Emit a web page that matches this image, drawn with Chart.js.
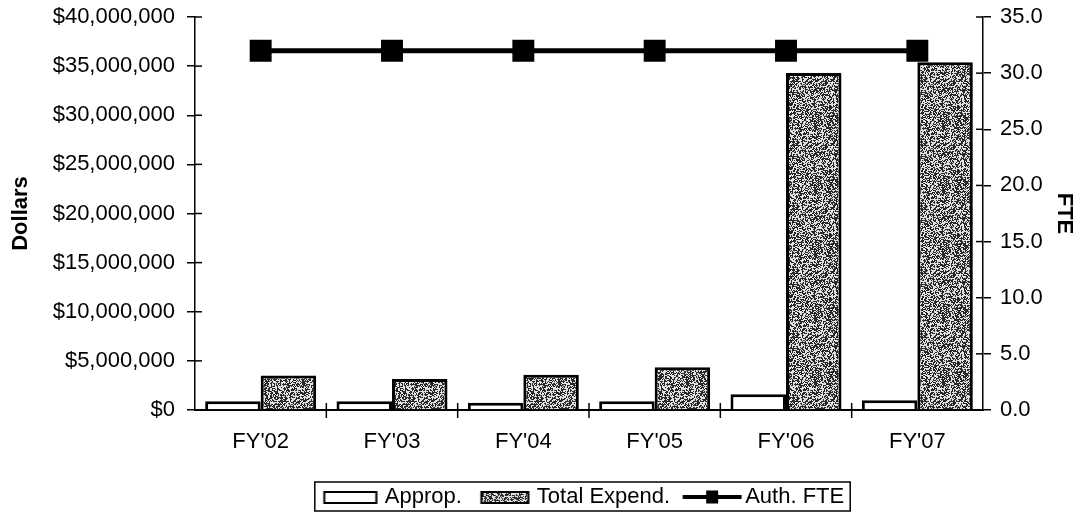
<!DOCTYPE html>
<html>
<head>
<meta charset="utf-8">
<script src="https://cdn.jsdelivr.net/npm/chart.js@4"></script>
<style>
  html, body { margin: 0; padding: 0; background: #fff; }
  #wrap { width: 1080px; height: 516px; position: relative; }
</style>
</head>
<body>
<div id="wrap"><canvas id="chart" width="1080" height="516"></canvas></div>
<script>
// Chart data
const years = ["FY'02", "FY'03", "FY'04", "FY'05", "FY'06", "FY'07"];
const approp = [900000, 900000, 750000, 900000, 1600000, 1000000];
const totalExpend = [3500000, 3150000, 3600000, 4350000, 34300000, 35400000];
const authFte = [32, 32, 32, 32, 32, 32];
const dollarTicks = [0, 5000000, 10000000, 15000000, 20000000, 25000000, 30000000, 35000000, 40000000];
const fteTicks = [0, 5, 10, 15, 20, 25, 30, 35];

const FONT = 'Liberation Sans, Arial, sans-serif';
const LEGEND_SHIFT = 43;
const LEGEND_DROP = 2;

// speckled gray fill like the scanned halftone
function makeSpeckle() {
  const c = document.createElement('canvas');
  c.width = 64; c.height = 64;
  const g = c.getContext('2d');
  const img = g.createImageData(64, 64);
  for (let y = 0; y < 64; y++) {
    for (let x = 0; x < 64; x++) {
      let h = (x * 374761393 + y * 668265263) | 0;
      h = Math.imul(h ^ (h >>> 13), 1274126177);
      h = (h ^ (h >>> 16)) >>> 0;
      const v = (h % 100) < 52 ? 40 : 225;
      const i = (y * 64 + x) * 4;
      img.data[i] = img.data[i + 1] = img.data[i + 2] = v;
      img.data[i + 3] = 255;
    }
  }
  g.putImageData(img, 0, 0);
  return c;
}
const speckle = makeSpeckle();
const ctx = document.getElementById('chart').getContext('2d');
const grayFill = ctx.createPattern(speckle, 'repeat');

// legend icons (drawn inside a wider image so the gaps match the reference)
function boxIcon(w, start, cw, fill) {
  const c = document.createElement('canvas');
  c.width = w; c.height = 16;
  const g = c.getContext('2d');
  g.fillStyle = fill;
  g.fillRect(start, 3, cw, 11);
  g.strokeStyle = '#000';
  g.lineWidth = 2;
  g.strokeRect(start, 3, cw, 11);
  return c;
}
function lineIcon(w, start, cw) {
  const c = document.createElement('canvas');
  c.width = w; c.height = 16;
  const g = c.getContext('2d');
  g.strokeStyle = '#000';
  g.lineWidth = 4;
  g.beginPath();
  g.moveTo(start, 8);
  g.lineTo(start + cw, 8);
  g.stroke();
  g.fillStyle = '#000';
  g.fillRect(start + cw / 2 - 6, 1.5, 12, 13);
  return c;
}
const legendIcons = [
  boxIcon(60, 6.5, 52, '#fff'),
  boxIcon(60, 11.5, 47, grayFill),
  lineIcon(68, 8.5, 59)
];

// ticks that cross the axis lines, and the frame round the legend
const extras = {
  id: 'extras',
  afterLayout(chart) {
    const lg = chart.legend;
    lg.left += LEGEND_SHIFT;
    lg.right += LEGEND_SHIFT;
    lg.top += LEGEND_DROP;
    lg.bottom += LEGEND_DROP;
  },
  afterDraw(chart) {
    const c = chart.ctx;
    const a = chart.chartArea;
    c.save();
    c.strokeStyle = '#000';
    c.lineWidth = 1.5;
    const y = chart.scales.y, y1 = chart.scales.y1, x = chart.scales.x;
    y.ticks.forEach((t, i) => {
      const p = y.getPixelForTick(i);
      c.beginPath(); c.moveTo(a.left, p); c.lineTo(a.left + 7, p); c.stroke();
    });
    y1.ticks.forEach((t, i) => {
      const p = y1.getPixelForTick(i);
      c.beginPath(); c.moveTo(a.right - 7, p); c.lineTo(a.right, p); c.stroke();
    });
    const step = (x.right - x.left) / years.length;
    for (let i = 1; i < years.length; i++) {
      const p = x.left + i * step;
      c.beginPath(); c.moveTo(p, a.bottom - 7); c.lineTo(p, a.bottom + 8); c.stroke();
    }
    const hb = chart.legend.legendHitBoxes;
    if (hb && hb.length) {
      const last = hb[hb.length - 1];
      const l = hb[0].left - 7;
      const r = last.left + last.width + 6;
      const t = hb[0].top - 4;
      c.lineWidth = 1.5;
      c.strokeRect(l, t, r - l, hb[0].height + 7);
    }
    c.restore();
  }
};

new Chart(ctx, {
  data: {
    labels: years,
    datasets: [
      {
        type: 'line',
        label: 'Auth. FTE',
        data: authFte,
        yAxisID: 'y1',
        borderColor: '#000',
        backgroundColor: '#000',
        borderWidth: 5,
        pointStyle: 'rect',
        pointRadius: 15.5,
        pointBorderWidth: 0,
        order: 0
      },
      {
        type: 'bar',
        label: 'Approp.',
        data: approp,
        yAxisID: 'y',
        backgroundColor: '#fff',
        borderColor: '#000',
        borderWidth: 3,
        order: 1
      },
      {
        type: 'bar',
        label: 'Total Expend.',
        data: totalExpend,
        yAxisID: 'y',
        backgroundColor: grayFill,
        borderColor: '#000',
        borderWidth: 3,
        order: 1
      }
    ]
  },
  options: {
    responsive: false,
    animation: false,
    layout: { padding: { top: 17, bottom: 0, left: 0, right: 0 } },
    datasets: {
      bar: { categoryPercentage: 0.845, barPercentage: 1.0 }
    },
    plugins: {
      tooltip: { enabled: false },
      legend: {
        position: 'bottom',
        labels: {
          font: { family: FONT, size: 22 },
          color: '#000',
          usePointStyle: true,
          pointStyleWidth: 52,
          boxHeight: 22,
          padding: 12,
          generateLabels(chart) {
            const order = [1, 2, 0];
            return order.map((di, k) => ({
              text: chart.data.datasets[di].label,
              datasetIndex: di,
              pointStyle: legendIcons[k],
              fillStyle: '#000',
              strokeStyle: '#000',
              lineWidth: 0,
              hidden: false
            }));
          }
        }
      }
    },
    scales: {
      x: {
        grid: { display: true, drawOnChartArea: false, drawTicks: false, color: '#000' },
        border: { color: '#000', width: 2 },
        ticks: { font: { family: FONT, size: 22 }, color: '#000', padding: 19 },
        afterFit(s) { s.height = 62; s.paddingLeft = 0; s.paddingRight = 0; }
      },
      y: {
        position: 'left',
        min: 0,
        max: 40000000,
        afterBuildTicks(s) { s.ticks = dollarTicks.map(v => ({ value: v })); },
        grid: { drawOnChartArea: false, drawTicks: true, tickLength: 8, color: '#000', lineWidth: 1.5 },
        border: { color: '#000', width: 1.5 },
        ticks: {
          font: { family: FONT, size: 22 },
          color: '#000',
          padding: 12,
          callback: v => '$' + Number(v).toLocaleString('en-US')
        },
        title: {
          display: true,
          text: 'Dollars',
          font: { family: FONT, size: 22, weight: 'bold' },
          color: '#000',
          padding: { top: 8, bottom: 6 }
        },
        afterFit(s) { s.width = 195; s.paddingTop = 0; s.paddingBottom = 0; }
      },
      y1: {
        position: 'right',
        min: 0,
        max: 35,
        afterBuildTicks(s) { s.ticks = fteTicks.map(v => ({ value: v })); },
        grid: { drawOnChartArea: false, drawTicks: true, tickLength: 8, color: '#000', lineWidth: 1.5 },
        border: { color: '#000', width: 1.5 },
        ticks: {
          font: { family: FONT, size: 22 },
          color: '#000',
          padding: 9,
          callback: v => Number(v).toFixed(1)
        },
        title: {
          display: true,
          text: 'FTE',
          font: { family: FONT, size: 22, weight: 'bold' },
          color: '#000',
          padding: { top: 3, bottom: 6 }
        },
        afterFit(s) { s.width = 97; s.paddingTop = 0; s.paddingBottom = 0; }
      }
    }
  },
  plugins: [extras]
});
</script>
</body>
</html>
